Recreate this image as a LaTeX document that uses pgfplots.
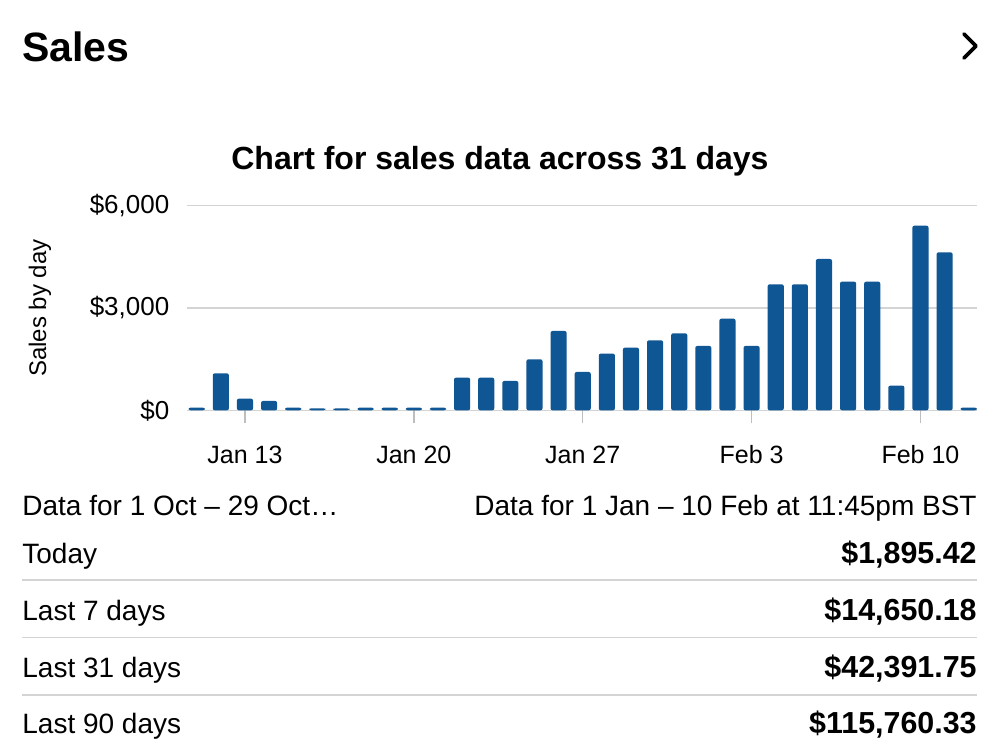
\documentclass[border=0pt]{standalone}
\usepackage{fontspec}
\setmainfont{Liberation Sans}
\usepackage{pgfplots}
\pgfplotsset{compat=1.18}

\definecolor{barblue}{RGB}{15,86,148}
\definecolor{rulegray}{RGB}{212,212,212}
\definecolor{tickgray}{RGB}{190,190,190}

% daily sales, day 0 = Jan 11
\pgfplotstableread{
day sales
0 80
1 1085
2 342
3 274
4 80
5 60
6 55
7 80
8 80
9 80
10 80
11 958
12 958
13 860
14 1496
15 2326
16 1124
17 1662
18 1838
19 2053
20 2258
21 1887
22 2688
23 1887
24 3695
25 3695
26 4438
27 3773
28 3773
29 723
30 5415
31 4633
32 80
}\salesdata

\begin{document}
\begin{tikzpicture}
\begin{scope}[x=0.5pt,y=-0.5pt]
  \path[use as bounding box] (0,0) rectangle (1000,750);
  % header
  \node[anchor=base west, inner sep=0pt, font=\fontsize{20.5}{24}\selectfont\bfseries] at (22,61) {Sales};
  \draw[line width=1.8pt, line cap=round, line join=round] (964,34)--(976,46)--(964,58);
  % summary rows
  \begin{scope}[every node/.style={inner sep=0pt, font=\fontsize{14}{17}\selectfont}]
    \node[anchor=base west] at (22,515) {Data for 1 Oct – 29 Oct…};
    \node[anchor=base east] at (977,515) {Data for 1 Jan – 10 Feb at 11:45pm BST};
    \node[anchor=base west] at (22,563) {Today};
    \node[anchor=base west] at (22,620) {Last 7 days};
    \node[anchor=base west] at (22,677) {Last 31 days};
    \node[anchor=base west] at (22,733) {Last 90 days};
    \node[anchor=base east, font=\fontsize{15.2}{17}\selectfont\bfseries] at (977,563) {\$1,895.42};
    \node[anchor=base east, font=\fontsize{15.2}{17}\selectfont\bfseries] at (977,620) {\$14,650.18};
    \node[anchor=base east, font=\fontsize{15.2}{17}\selectfont\bfseries] at (977,677) {\$42,391.75};
    \node[anchor=base east, font=\fontsize{15.2}{17}\selectfont\bfseries] at (977,733) {\$115,760.33};
  \end{scope}
  \draw[rulegray, line width=0.75pt] (22,580) -- (977,580);
  \draw[rulegray, line width=0.75pt] (22,637.7) -- (977,637.7);
  \draw[rulegray, line width=0.75pt] (22,695) -- (977,695);
\end{scope}

\begin{axis}[
  at={(93.35pt,-205.15pt)}, anchor=south west,
  scale only axis, width=395.15pt, height=102.3pt,
  xmin=-0.415, xmax=32.344, ymin=0, ymax=6000,
  axis line style={draw=none},
  ymajorgrids, grid style={rulegray, line width=0.75pt},
  ytick={0,3000,6000}, yticklabels={{\$0},{\$3,000},{\$6,000}},
  xtick={2,9,16,23,30}, xticklabels={Jan 13,Jan 20,Jan 27,Feb 3,Feb 10},
  xtick pos=left, ytick pos=left,
  tick align=outside, major tick length=6.5pt,
  xtick style={tickgray, line width=0.75pt},
  ytick style={draw=none},
  xticklabel style={font=\fontsize{12.5}{14}\selectfont, inner sep=0pt},
  yticklabel style={font=\fontsize{13}{15}\selectfont, inner sep=0pt, anchor=east},
  xticklabel shift=11pt,
  yticklabel shift=2pt,
  title={Chart for sales data across 31 days},
  every axis title/.style={at={(axis description cs:0.3964,1.1794)}, anchor=base,
    font=\fontsize{16}{19}\selectfont\bfseries, inner sep=0pt},
  ylabel={Sales by day},
  every axis y label/.style={at={(axis description cs:-0.1856,0.5)}, rotate=90, anchor=center, font=\fontsize{12}{14}\selectfont},
]
\addplot[ybar, bar width=0.67, fill=barblue, draw=none, rounded corners=1pt] table[x=day, y=sales] {\salesdata};
\end{axis}
\end{tikzpicture}
\end{document}
